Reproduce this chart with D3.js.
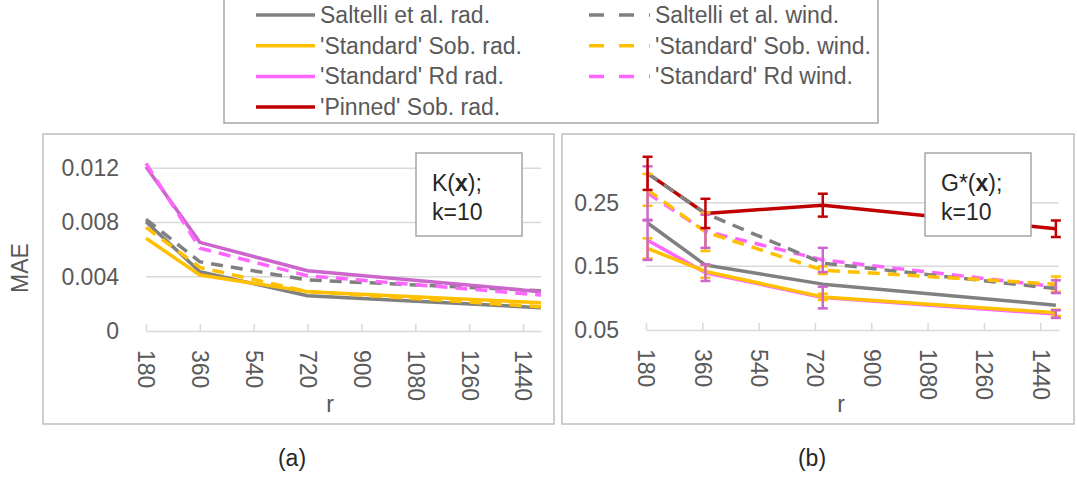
<!DOCTYPE html>
<html>
<head>
<meta charset="utf-8">
<script src="https://cdn.jsdelivr.net/npm/d3@7"></script>
<style>
 body { margin: 0; background: white; }
 text { font-family: "Liberation Sans", Arial, sans-serif; }
</style>
</head>
<body>
<script>
 /*global d3 */

 // *** x values (r) for the two panels
 var kR = [180, 360, 720, 1500];
 var gR = [185, 370, 745, 1490];
 var rTicks = [180, 360, 540, 720, 900, 1080, 1260, 1440];

 // *** panel (a) K(x): MAE values
 var kSaltelliRad = [0.00805, 0.00437, 0.0026, 0.00172];
 var kSaltelliWind = [0.00823, 0.0051, 0.00376, 0.00297];
 var kSobRad = [0.00683, 0.00413, 0.0029, 0.00208];
 var kSobWind = [0.00764, 0.00469, 0.0029, 0.00179];
 var kRdRad = [0.0121, 0.00653, 0.00444, 0.0029];
 var kRdWind = [0.01235, 0.0061, 0.00407, 0.00265];
 var kYTicks = [0, 0.004, 0.008, 0.012];

 // *** panel (b) G*(x): MAE values
 var gSaltelliRad = [0.218, 0.152, 0.122, 0.089];
 var gSaltelliWind = [0.296, 0.233, 0.155, 0.115];
 var gSobRad = [0.178, 0.142, 0.102, 0.077];
 var gSobWind = [0.27, 0.204, 0.144, 0.122];
 var gRdRad = [0.191, 0.14, 0.101, 0.075];
 var gRdWind = [0.265, 0.205, 0.16, 0.118];
 var gPinnedRad = [0.296, 0.233, 0.246, 0.209];
 var gYTicks = [0.05, 0.15, 0.25];

 // *** error bar half widths (panel b)
 var gPinnedErr = [0.026, 0.023, 0.018, 0.013];
 var gRdWindErr = [0.042, 0.026, 0.019, 0.01];
 var gRdRadErr = [0.031, 0.013, 0.017, 0.006];
 var gSobWindErr = [0.025, 0.03, 0.006, 0.012];
 var gSobRadErr = [0.016, 0.01, 0.005, 0.005];

 var legendNames = [
  "Saltelli et al. rad.", "Saltelli et al. wind.",
  "'Standard' Sob. rad.", "'Standard' Sob. wind.",
  "'Standard' Rd rad.", "'Standard' Rd wind.",
  "'Pinned' Sob. rad."
 ];

 var gray = '#808080', yellow = '#ffc000', pink = '#ff66ff', mauve = '#cc66cc', red = '#c00000';
 var dash = '12,8';

 var svg = d3.select('body')
  .append('svg')
  .attr('width', 1077)
  .attr('height', 479);

 function zip(r, v) {
  return r.map(function(d, i) { return { r: d, v: v[i] }; });
 }

 function drawPanel(p) {
  var g = svg.append('g');

  // frame
  g.append('rect')
   .attr('x', p.frameX[0]).attr('y', 134)
   .attr('width', p.frameX[1] - p.frameX[0]).attr('height', 290)
   .attr('fill', 'none').attr('stroke', '#bfbfbf').attr('stroke-width', 1.5);

  var xScale = d3.scaleLinear().domain([180, 1500]).range([p.left, p.right]);
  var yScale = d3.scaleLinear().domain(p.yDomain).range([p.bottom, p.top]);

  // gridlines
  g.selectAll('.grid')
   .data(p.yTicks.slice(1))
   .enter()
   .append('line')
   .attr('x1', p.left).attr('x2', p.right)
   .attr('y1', function(d) { return yScale(d); })
   .attr('y2', function(d) { return yScale(d); })
   .attr('stroke', '#d9d9d9').attr('stroke-width', 1.5);

  // y labels
  g.selectAll('.ylab')
   .data(p.yTicks)
   .enter()
   .append('text')
   .attr('x', p.labelRight)
   .attr('y', function(d) { return yScale(d); })
   .attr('dy', '0.35em')
   .style('text-anchor', 'end')
   .style('font-size', '23px')
   .attr('fill', '#595959')
   .text(function(d) { return d === 0 ? '0' : p.fmt(d); });

  // x axis
  var xAxis = d3.axisBottom(xScale).tickValues(rTicks).tickSizeInner(-7).tickSizeOuter(0).tickFormat(d3.format('d'));
  var ax = g.append('g')
   .attr('transform', 'translate(0,' + p.bottom + ')')
   .call(xAxis);
  ax.select('.domain').attr('stroke', '#d9d9d9').attr('stroke-width', 1.5);
  ax.selectAll('.tick line').attr('stroke', '#d9d9d9').attr('stroke-width', 1.5);
  ax.selectAll('.tick text')
   .attr('transform', 'rotate(90)')
   .attr('x', 19).attr('y', 0).attr('dy', '0.35em')
   .style('text-anchor', 'start')
   .style('font-size', '23px')
   .style('font-family', '"Liberation Sans", Arial, sans-serif')
   .attr('fill', '#595959');

  // x axis label
  g.append('text')
   .attr('x', p.rLabelX).attr('y', 412)
   .style('text-anchor', 'middle').style('font-size', '23px')
   .attr('fill', '#595959')
   .text('r');

  var line = d3.line()
   .x(function(d) { return xScale(d.r); })
   .y(function(d) { return yScale(d.v); });

  p.series.forEach(function(s) {
   g.append('path')
    .datum(zip(p.r, s.values))
    .attr('d', line)
    .attr('fill', 'none')
    .attr('stroke', s.color)
    .attr('stroke-width', 3.5)
    .attr('stroke-linejoin', 'round')
    .attr('stroke-dasharray', s.dashed ? dash : null);
  });

  // error bars
  (p.errors || []).forEach(function(e) {
   var pts = p.r.map(function(r, i) { return { r: r, v: e.values[i], err: e.err[i] }; });
   var eb = g.append('g').attr('stroke', e.color).attr('stroke-width', 2.5);
   pts.forEach(function(d) {
    var x = xScale(d.r), y1 = yScale(d.v - d.err), y2 = yScale(d.v + d.err);
    eb.append('line').attr('x1', x).attr('x2', x).attr('y1', y1).attr('y2', y2);
    eb.append('line').attr('x1', x - 5).attr('x2', x + 5).attr('y1', y1).attr('y2', y1);
    eb.append('line').attr('x1', x - 5).attr('x2', x + 5).attr('y1', y2).attr('y2', y2);
   });
  });

  // inset label box
  g.append('rect')
   .attr('x', p.boxX[0]).attr('y', 153)
   .attr('width', p.boxX[1] - p.boxX[0]).attr('height', 83)
   .attr('fill', 'white').attr('stroke', '#a6a6a6').attr('stroke-width', 1.5);
  var t1 = g.append('text')
   .attr('x', p.boxX[0] + 16).attr('y', 191)
   .style('font-size', '23px').attr('fill', '#262626');
  t1.append('tspan').text(p.fn + '(');
  t1.append('tspan').style('font-weight', 'bold').text('x');
  t1.append('tspan').text(');');
  g.append('text')
   .attr('x', p.boxX[0] + 16).attr('y', 220)
   .style('font-size', '23px').attr('fill', '#262626')
   .text('k=10');
 }

 // *** panel (a)
 drawPanel({
  frameX: [43, 554],
  left: 146, right: 541, bottom: 331, top: 141,
  yDomain: [0, 0.014],
  yTicks: kYTicks,
  fmt: d3.format('.3f'),
  labelRight: 119,
  rLabelX: 330,
  r: kR,
  fn: 'K',
  boxX: [416, 522],
  series: [
   { values: kSaltelliRad, color: gray },
   { values: kSaltelliWind, color: gray, dashed: true },
   { values: kSobRad, color: yellow },
   { values: kSobWind, color: yellow, dashed: true },
   { values: kRdRad, color: mauve },
   { values: kRdWind, color: pink, dashed: true }
  ]
 });

 // *** panel (b)
 drawPanel({
  frameX: [562, 1074],
  left: 646, right: 1059, bottom: 330, top: 148.5,
  yDomain: [0.05, 0.335],
  yTicks: gYTicks,
  fmt: d3.format('.2f'),
  labelRight: 619,
  rLabelX: 841,
  r: gR,
  fn: 'G*',
  boxX: [925, 1031],
  series: [
   { values: gPinnedRad, color: red },
   { values: gRdRad, color: pink },
   { values: gRdWind, color: pink, dashed: true },
   { values: gSaltelliRad, color: gray },
   { values: gSaltelliWind, color: gray, dashed: true },
   { values: gSobRad, color: yellow },
   { values: gSobWind, color: yellow, dashed: true }
  ],
  errors: [
   { values: gSobRad, err: gSobRadErr, color: yellow },
   { values: gSobWind, err: gSobWindErr, color: yellow },
   { values: gRdRad, err: gRdRadErr, color: mauve },
   { values: gRdWind, err: gRdWindErr, color: mauve },
   { values: gPinnedRad, err: gPinnedErr, color: red }
  ]
 });

 // y axis title
 svg.append('text')
  .attr('transform', 'translate(28,268) rotate(-90)')
  .style('text-anchor', 'middle').style('font-size', '23px')
  .attr('fill', '#595959')
  .text('MAE');

 // panel captions
 svg.append('text').attr('x', 292).attr('y', 466).style('text-anchor', 'middle').style('font-size', '23px').attr('fill', '#262626').text('(a)');
 svg.append('text').attr('x', 812).attr('y', 466).style('text-anchor', 'middle').style('font-size', '23px').attr('fill', '#262626').text('(b)');

 // *** legend
 var legendColors = [gray, gray, yellow, yellow, pink, pink, red];
 var legend = svg.append('g');
 legend.append('rect')
  .attr('x', 224).attr('y', -2).attr('width', 654).attr('height', 125)
  .attr('fill', 'white').attr('stroke', '#a6a6a6').attr('stroke-width', 1.5);

 legendNames.forEach(function(name, i) {
  var col = i % 2, row = Math.floor(i / 2);
  var y = 15 + row * 30.7;
  var x0 = col === 0 ? 256 : 589;
  var x1 = col === 0 ? 315 : 650;
  legend.append('line')
   .attr('x1', x0).attr('x2', x1).attr('y1', y).attr('y2', y)
   .attr('stroke', legendColors[i]).attr('stroke-width', 3.5)
   .attr('stroke-dasharray', col === 1 ? '15,15' : null);
  legend.append('text')
   .attr('x', col === 0 ? 320 : 655).attr('y', y + 8)
   .style('font-size', '23px').attr('fill', '#595959')
   .text(name);
 });
</script>
</body>
</html>
